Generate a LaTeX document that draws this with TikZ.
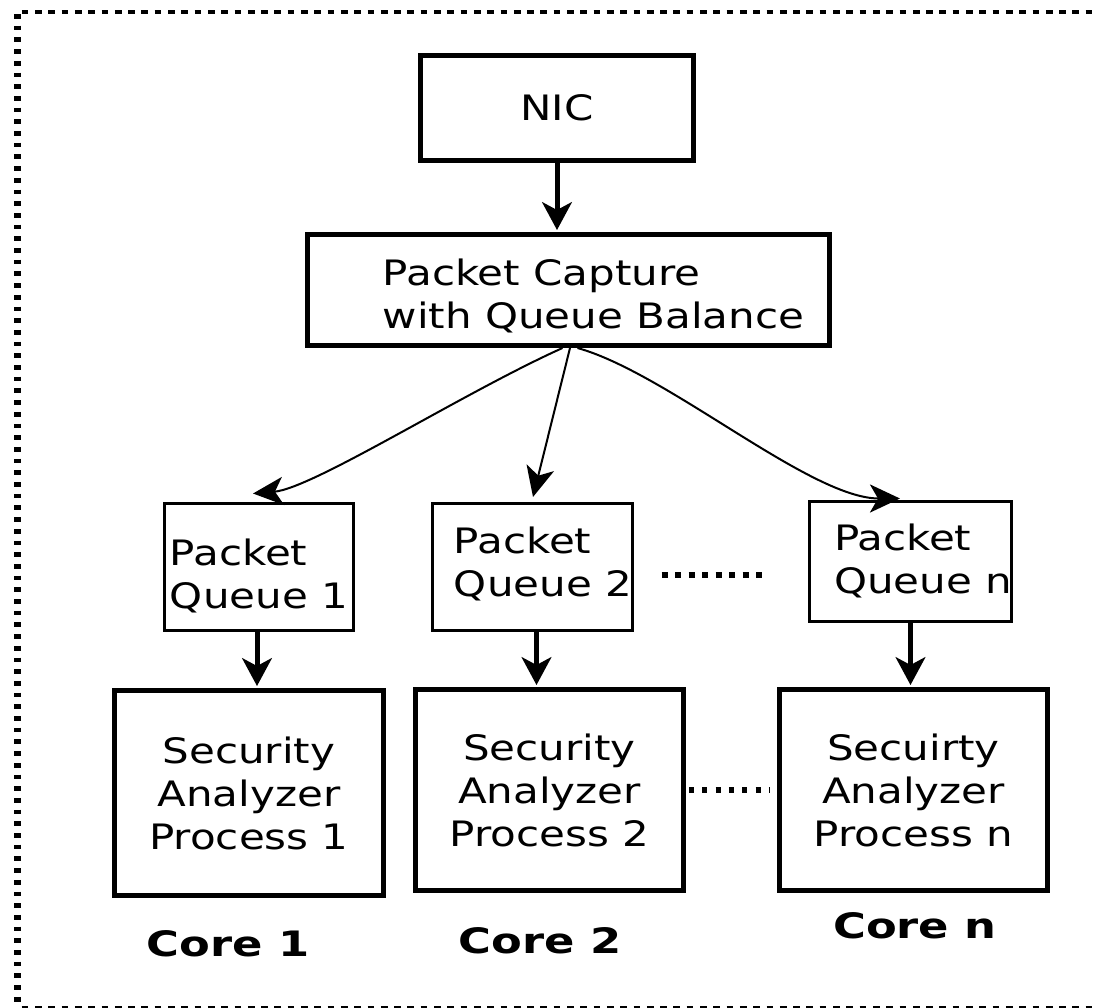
\documentclass[tikz,border=0pt]{standalone}
\usepackage{fontspec}
\usetikzlibrary{arrows.meta}
\newfontfamily\boxfont{DejaVu Sans}[FakeStretch=1.2]
\newfontfamily\corefont{DejaVu Sans}[FakeStretch=1.28]
% left-aligned multi-line block: #1 = sideways nudge (twice the shift),
% #2 = distance of the first baseline below the node centre
\newcommand\leftblock[3]{\raisebox{-#2}[0pt][0pt]{\hspace*{#1}\begin{tabular}[t]{@{}l@{}}#3\end{tabular}}}

\tikzset{
  txt/.style={font=\boxfont\fontsize{35}{43}\selectfont},
  thickbox/.style={draw, line width=5pt, inner sep=0pt, txt},
  thinbox/.style={draw, line width=3pt, inner sep=0pt, txt},
  feed/.style={line width=5pt, shorten >=2pt,
    -{Stealth[length=28pt,width=30pt,inset=8pt,line width=3pt]}},
  spread/.style={line width=2pt,
    -{Stealth[length=30pt,width=28pt,inset=8pt,line width=3pt]}},
  frameh/.style={line width=4.7pt, dash pattern=on 6.7pt off 6.6pt},
  framev/.style={line width=6.7pt, dash pattern=on 4.7pt off 7pt},
  ellipsis/.style={line width=6pt, dash pattern=on 6pt off 7.5pt},
  corelabel/.style={font=\corefont\bfseries\fontsize{35}{43}\selectfont, anchor=base},
}

\begin{document}
\begin{tikzpicture}[x=1pt, y=-1pt]
  \useasboundingbox (0,0) rectangle (1095,1007);
  \fill[white] (0,0) rectangle (1095,1007);
  \clip (0,0) rectangle (1095,1007);

  % dotted outer frame
  \draw[frameh] (21.7,12) -- (1100,12);
  \draw[frameh] (21.7,1008.5) -- (1100,1008.5);
  \draw[framev] (17.3,14) -- (17.3,1012);

  % boxes
  \node[thickbox, minimum width=273pt, minimum height=105pt] (nic) at (557,108) {NIC};
  \node[thickbox, minimum width=522pt, minimum height=111pt] (pc) at (568.5,290)
    {\leftblock{50pt}{-5pt}{Packet Capture\\with Queue Balance}};

  \node[thinbox, minimum width=189pt, minimum height=127pt] (q1) at (259,567)
    {\leftblock{0pt}{-2pt}{Packet\\Queue 1}};
  \node[thinbox, minimum width=188pt, minimum height=127pt] (q2) at (532.5,567)
    {\leftblock{21pt}{-14pt}{Packet\\Queue 2}};
  \node[thinbox, minimum width=202pt, minimum height=120pt] (qn) at (910.5,561.5)
    {\leftblock{25pt}{-11.5pt}{Packet\\Queue n}};

  \node[thickbox, align=center, minimum width=269pt, minimum height=205pt] (sa1) at (249,793)
    {Security\\Analyzer\\Process 1};
  \node[thickbox, align=center, minimum width=268pt, minimum height=201pt] (sa2) at (549.5,790)
    {Security\\Analyzer\\Process 2};
  \node[thickbox, align=center, minimum width=268pt, minimum height=201pt] (san) at (913.5,790)
    {Secuirty\\Analyzer\\Process n};

  \node[corelabel] (core1) at (228,956) {Core 1};
  \node[corelabel] (core2) at (540,953) {Core 2};
  \node[corelabel] (coren) at (915,938) {Core n};

  % connectors
  \draw[feed] (nic.south) -- (nic.south |- pc.north);
  \draw[spread] ([shift={(-6,0)}]pc.south) .. controls +(-100,45) and +(60,-5) ..
    ([shift={(-6,-8.5)}]q1.north);
  \draw[spread] ([shift={(1.5,0)}]pc.south) -- ([shift={(0.5,-5)}]q2.north);
  \draw[spread] ([shift={(9,0)}]pc.south) .. controls +(90,25) and +(-90,0) ..
    ([shift={(-10.5,-1.5)}]qn.north);

  \draw[feed] ([shift={(-2,0)}]q1.south) -- ([shift={(-2,0)}]q1.south |- sa1.north);
  \draw[feed] ([shift={(4,0)}]q2.south) -- ([shift={(4,0)}]q2.south |- sa2.north);
  \draw[feed] (qn.south) -- (qn.south |- san.north);

  % ellipses between the columns
  \draw[ellipsis] ([shift={(28,8)}]q2.east) -- ([shift={(-38.5,13.5)}]qn.west);
  \draw[ellipsis, line width=5.5pt, dash pattern=on 5pt off 8.3pt]
    ([shift={(3,0)}]sa2.east) -- ([shift={(-7,0)}]san.west);
\end{tikzpicture}
\end{document}
